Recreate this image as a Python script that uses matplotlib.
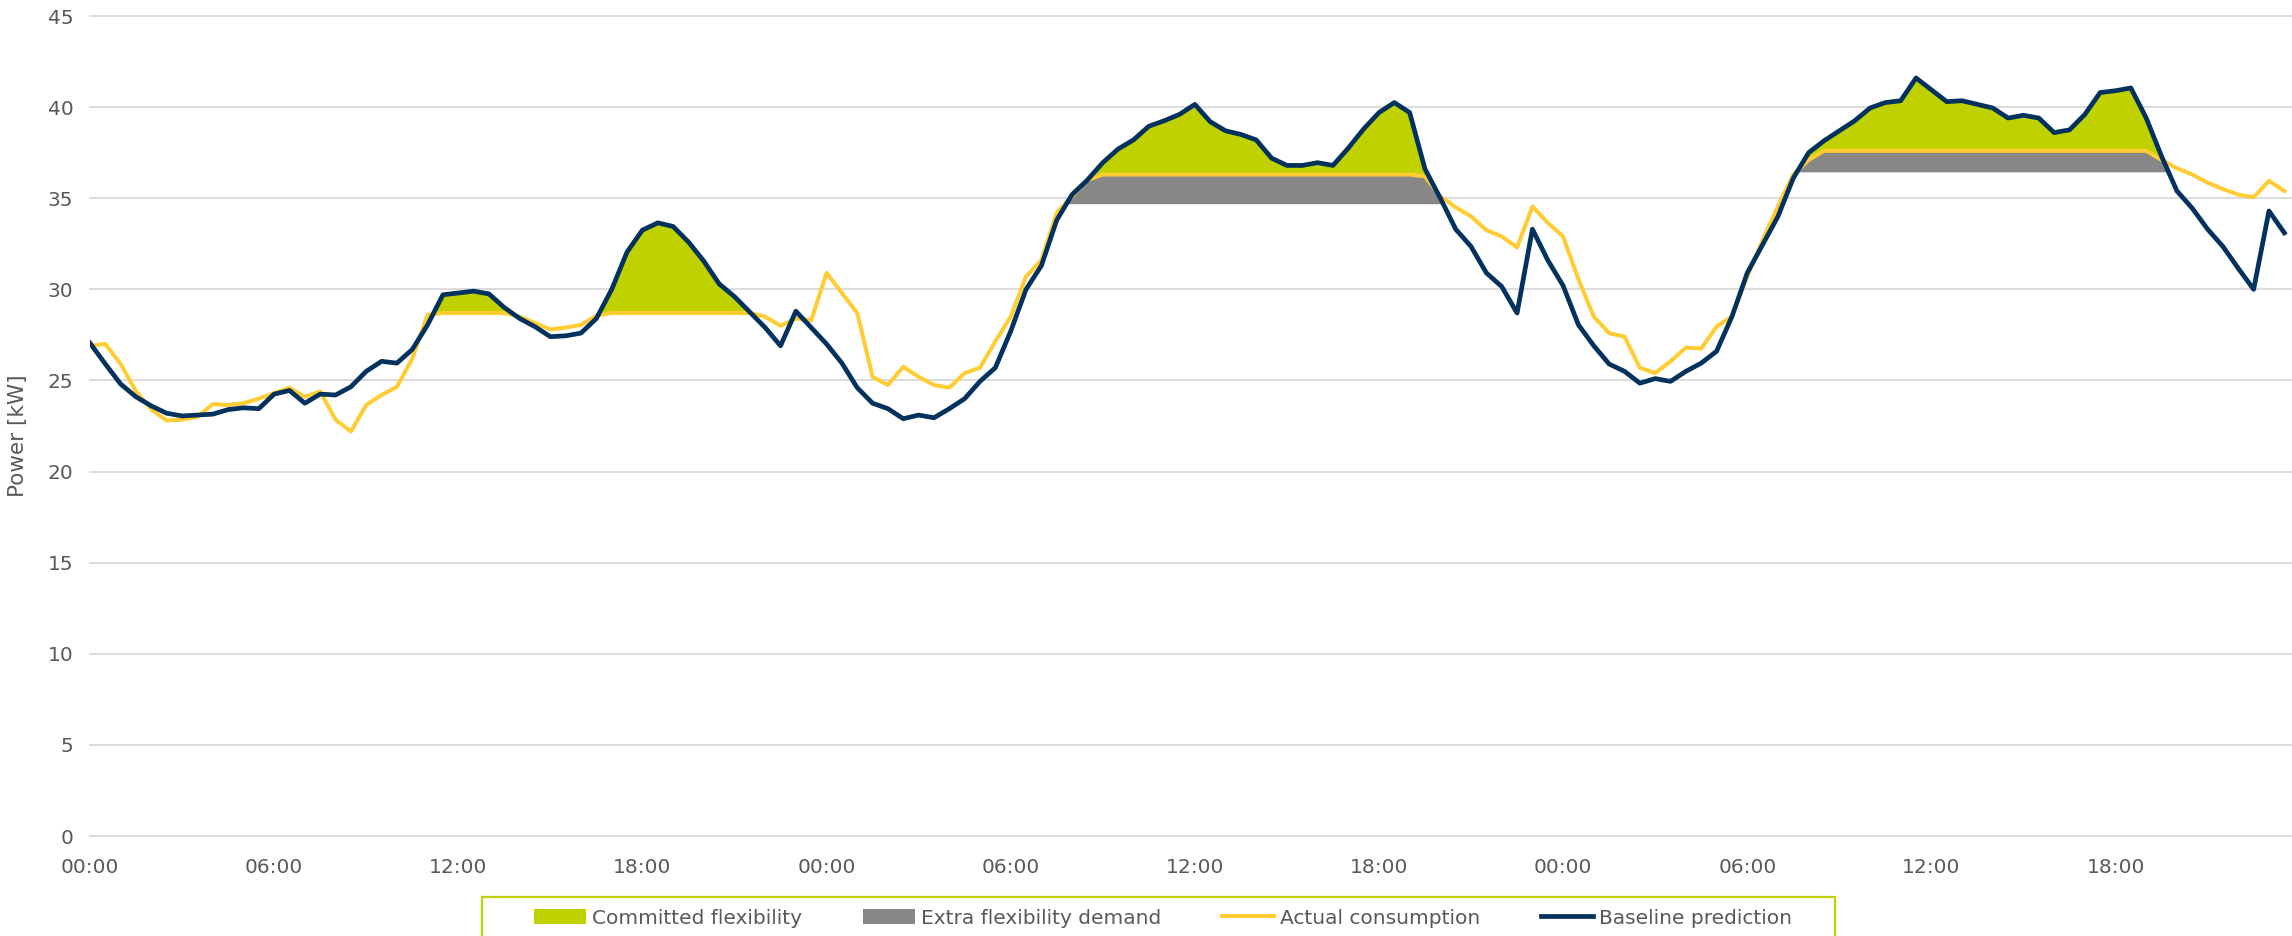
import numpy as np
import matplotlib
matplotlib.use("Agg")
import matplotlib.pyplot as plt
from matplotlib.patches import Rectangle

# ---- data: 30-minute resolution over three days (hours since start) ----
hours = np.arange(0, 72, 0.5)

baseline = [
    27.05, 25.9, 24.8, 24.1, 23.6, 23.2, 23.05, 23.1, 23.15, 23.4, 23.5, 23.45,
    24.25, 24.45, 23.75, 24.25, 24.2, 24.65, 25.5, 26.05, 25.95, 26.7, 28.05, 29.7,
    29.8, 29.9, 29.75, 29.0, 28.4, 27.95, 27.4, 27.45, 27.6, 28.4, 30.0, 32.05,
    33.25, 33.65, 33.45, 32.6, 31.55, 30.3, 29.6, 28.75, 27.9, 26.9, 28.8, 27.9,
    27.0, 25.95, 24.6, 23.75, 23.45, 22.9, 23.1, 22.95, 23.45, 24.0, 24.95, 25.7,
    27.7, 30.0, 31.3, 33.8, 35.2, 36.0, 36.95, 37.7, 38.2, 38.95, 39.25, 39.6,
    40.15, 39.2, 38.7, 38.5, 38.2, 37.2, 36.8, 36.8, 36.95, 36.8, 37.75, 38.8,
    39.7, 40.25, 39.7, 36.6, 35.0, 33.3, 32.35, 30.9, 30.15, 28.7, 33.3, 31.6,
    30.2, 28.05, 26.9, 25.9, 25.5, 24.85, 25.1, 24.95, 25.5, 25.95, 26.6, 28.5,
    30.9, 32.45, 34.0, 36.1, 37.5, 38.15, 38.7, 39.25, 39.95, 40.25, 40.35, 41.6,
    40.95, 40.3, 40.35, 40.15, 39.95, 39.4, 39.55, 39.4, 38.6, 38.75, 39.6, 40.8,
    40.9, 41.05, 39.4, 37.3, 35.4, 34.45, 33.3, 32.35, 31.15, 30.0, 34.3, 33.1,
]

actual = [
    26.9, 27.0, 25.9, 24.4, 23.4, 22.8, 22.85, 23.0, 23.7, 23.65, 23.75, 24.0,
    24.3, 24.6, 24.1, 24.4, 22.85, 22.2, 23.65, 24.2, 24.65, 26.2, 28.6, 28.7,
    28.7, 28.7, 28.7, 28.7, 28.5, 28.15, 27.8, 27.9, 28.05, 28.55, 28.7, 28.7,
    28.7, 28.7, 28.7, 28.7, 28.7, 28.7, 28.7, 28.7, 28.5, 28.0, 28.4, 28.3,
    30.9, 29.8, 28.7, 25.2, 24.75, 25.75, 25.2, 24.75, 24.6, 25.4, 25.7, 27.15,
    28.5, 30.7, 31.6, 34.2, 35.1, 36.0, 36.3, 36.3, 36.3, 36.3, 36.3, 36.3,
    36.3, 36.3, 36.3, 36.3, 36.3, 36.3, 36.3, 36.3, 36.3, 36.3, 36.3, 36.3,
    36.3, 36.3, 36.3, 36.2, 35.1, 34.5, 34.0, 33.25, 32.9, 32.3, 34.55, 33.65,
    32.9, 30.55, 28.5, 27.6, 27.4, 25.7, 25.4, 26.05, 26.8, 26.75, 27.95, 28.5,
    30.7, 32.7, 34.55, 36.3, 37.1, 37.6, 37.6, 37.6, 37.6, 37.6, 37.6, 37.6,
    37.6, 37.6, 37.6, 37.6, 37.6, 37.6, 37.6, 37.6, 37.6, 37.6, 37.6, 37.6,
    37.6, 37.6, 37.6, 37.1, 36.65, 36.3, 35.85, 35.5, 35.2, 35.05, 35.95, 35.4,
]

# flexibility activation windows (start hour, end hour)
committed_windows = [(11.0, 14.0), (16.5, 22.0), (32.0, 44.0), (55.5, 68.0)]
# extra flexibility demand: (start hour, end hour, lower bound in kW)
extra_demand = [(31.0, 44.5, 34.7), (55.0, 68.5, 36.45)]

tick_hours = [0, 6, 12, 18, 24, 30, 36, 42, 48, 54, 60, 66]
tick_labels = ["00:00", "06:00", "12:00", "18:00"] * 3

# ---- styling ----
LIME = "#BFD200"
GREY = "#878787"
YELLOW = "#FFCC33"
NAVY = "#04325F"
GRID = "#D9D9D9"
TEXT = "#595959"

plt.rcParams["font.family"] = ["DejaVu Sans"]

W, H = 2292, 936
fig = plt.figure(figsize=(W / 100, H / 100), dpi=100)
ax = fig.add_axes([90 / W, 1 - 836 / H, (W - 90) / W, (836 - 16) / H])

base = np.array(baseline)
act = np.array(actual)

# committed flexibility: gap between baseline and the curtailed consumption
in_committed = np.zeros_like(hours, dtype=bool)
for a, b in committed_windows:
    in_committed |= (hours >= a) & (hours <= b)
ax.fill_between(hours, act, base, where=in_committed & (base >= act),
                interpolate=True, color=LIME, linewidth=0, zorder=2,
                label="Committed flexibility")

# extra flexibility demand band below the curtailed level
lower = np.minimum(act, base)
first = True
for a, b, floor in extra_demand:
    win = (hours >= a) & (hours <= b)
    ax.fill_between(hours, floor, lower, where=win & (lower >= floor),
                    interpolate=True, color=GREY, linewidth=0, zorder=2,
                    label="Extra flexibility demand" if first else None)
    first = False

ax.plot(hours, act, color=YELLOW, lw=2.9, zorder=3, label="Actual consumption",
        solid_joinstyle="round")
ax.plot(hours, base, color=NAVY, lw=3.4, zorder=4, label="Baseline prediction",
        solid_joinstyle="round")

# axes
ax.set_xlim(0, 71.75)
ax.set_ylim(0, 45)
ax.set_yticks(np.arange(0, 46, 5))
ax.set_xticks(tick_hours)
ax.set_xticklabels(tick_labels)
ax.tick_params(axis="both", length=0, labelsize=14.5, colors=TEXT)
ax.tick_params(axis="y", pad=12)
ax.tick_params(axis="x", pad=16)
for s in ax.spines.values():
    s.set_visible(False)
ax.grid(axis="y", color=GRID, lw=1.3)
ax.set_axisbelow(True)
for gl in ax.get_ygridlines():
    gl.set_clip_on(False)

ax.set_ylabel("Power [kW]", fontsize=15.5, color=TEXT)
ax.yaxis.set_label_coords(-0.028, 0.488)

# legend below the plot, framed in lime
handles, labels = ax.get_legend_handles_labels()
order = ["Committed flexibility", "Extra flexibility demand",
         "Actual consumption", "Baseline prediction"]
hl = dict(zip(labels, handles))
leg = fig.legend([hl[k] for k in order], order, ncol=4, mode="expand",
                 loc="center left",
                 bbox_to_anchor=(534 / W, 1 - 918 / H, (1792 - 534) / W, 0),
                 frameon=False, fontsize=14.5, borderpad=0, borderaxespad=0,
                 handlelength=2.6, handleheight=0.8, handletextpad=0.3)
for t in leg.get_texts():
    t.set_color(TEXT)
fig.add_artist(Rectangle((482 / W, -0.1), (1835 - 482) / W, 0.1 + (1 - 897 / H),
                         transform=fig.transFigure, fill=False,
                         edgecolor=LIME, lw=1.6, clip_on=False))

fig.savefig("out.png", dpi=100, facecolor="white")
